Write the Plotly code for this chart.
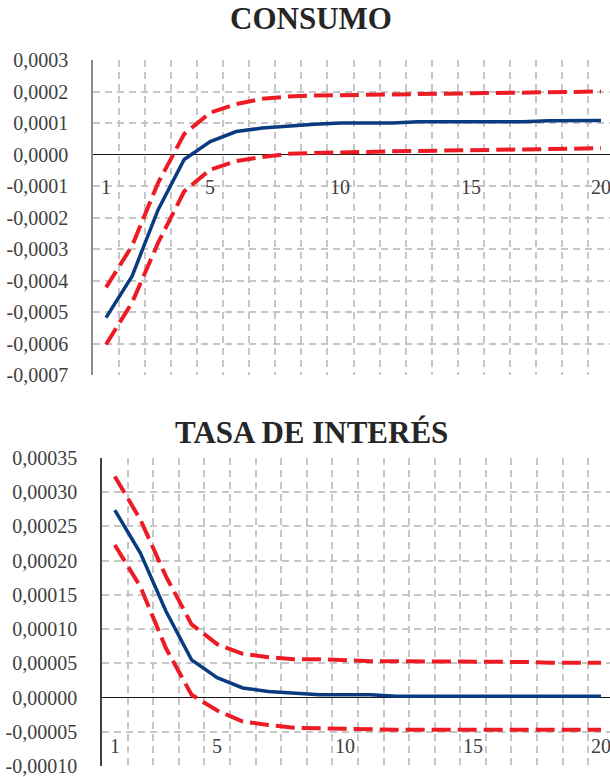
import plotly.graph_objects as go

periods = list(range(1, 21))

consumo_irf = [-0.000518, -0.000386, -0.000175, -0.000016, 0.000041, 0.000073, 0.000084, 0.000091,
               0.000096, 0.0001, 0.0001, 0.0001, 0.000104, 0.000104, 0.000104, 0.000104, 0.000104,
               0.000107, 0.000108, 0.000108]
consumo_upper = [-0.000422, -0.00029, -0.00009, 0.000065, 0.000133, 0.00016, 0.000177, 0.000184,
                 0.000187, 0.000188, 0.00019, 0.00019, 0.000192, 0.000194, 0.000195, 0.000195,
                 0.000195, 0.000196, 0.000197, 0.0002]
consumo_lower = [-0.000603, -0.00047, -0.00028, -0.000117, -0.000048, -0.000021, -0.000008, 0.000002,
                 0.000005, 0.000008, 0.000008, 0.00001, 0.000012, 0.000013, 0.000014, 0.000015,
                 0.000016, 0.000018, 0.000019, 0.00002]

tasa_irf = [0.000274, 0.000211, 0.000126, 0.000055, 0.000029, 0.000014, 0.000009, 0.000006,
            0.000004, 0.000004, 0.000004, 0.000002, 0.000002, 0.000002, 0.000002, 0.000002,
            0.000002, 0.000002, 0.000002, 0.000002]
tasa_upper = [0.000323, 0.00026, 0.000177, 0.000107, 0.000078, 0.000064, 0.000059, 0.000056,
              0.000056, 0.000054, 0.000053, 0.000053, 0.000053, 0.000053, 0.000053, 0.000053,
              0.000052, 0.000051, 0.000051, 0.000051]
tasa_lower = [0.000223, 0.000162, 0.000072, 0.000004, -0.000019, -0.000035, -0.00004, -0.000044,
              -0.000045, -0.000046, -0.000047, -0.000047, -0.000047, -0.000047, -0.000047,
              -0.000047, -0.000047, -0.000047, -0.000047, -0.000047]

consumo_ticks = [-0.0007, -0.0006, -0.0005, -0.0004, -0.0003, -0.0002, -0.0001, 0.0, 0.0001, 0.0002, 0.0003]
consumo_ticktext = ["-0,0007", "-0,0006", "-0,0005", "-0,0004", "-0,0003", "-0,0002", "-0,0001",
                    "0,0000", "0,0001", "0,0002", "0,0003"]
tasa_ticks = [-0.0001, -0.00005, 0.0, 0.00005, 0.0001, 0.00015, 0.0002, 0.00025, 0.0003, 0.00035]
tasa_ticktext = ["-0,00010", "-0,00005", "0,00000", "0,00005", "0,00010", "0,00015", "0,00020",
                 "0,00025", "0,00030", "0,00035"]
x_labels = [1, 5, 10, 15, 20]
titles = ["CONSUMO", "TASA DE INTERÉS"]

W, H = 610, 777
FONT = "Liberation Serif"
BLUE = "#0a3a80"
RED = "#ed1c24"
GRID = "#c6c6c6"
GDASH = "7px,5px"

fig = go.Figure()

panels = [
    dict(irf=consumo_irf, up=consumo_upper, lo=consumo_lower, ticks=consumo_ticks,
         ticktext=consumo_ticktext, yr=[-0.0007, 0.0003], left=93, top=60, bottom=375,
         xr=[0.5, 20.345], axcol="#8c8c8c", lab_shift=-33, title_y=19, ax=""),
    dict(irf=tasa_irf, up=tasa_upper, lo=tasa_lower, ticks=tasa_ticks,
         ticktext=tasa_ticktext, yr=[-0.0001, 0.00035], left=102, top=458, bottom=766,
         xr=[0.5, 20.35], axcol="#404040", lab_shift=-48, title_y=432, ax="2"),
]

for i, p in enumerate(panels):
    xa = "x" + p["ax"]
    ya = "y" + p["ax"]
    for series, color, dash, width in [(p["up"], RED, "19px,7px", 4),
                                        (p["lo"], RED, "19px,7px", 4),
                                        (p["irf"], BLUE, "solid", 3.5)]:
        fig.add_trace(go.Scatter(x=periods, y=series, mode="lines", xaxis=xa, yaxis=ya,
                                 line=dict(color=color, width=width, dash=dash),
                                 showlegend=False, hoverinfo="skip"))
    xkey = "xaxis" + p["ax"]
    ykey = "yaxis" + p["ax"]
    fig.update_layout(**{
        xkey: dict(domain=[p["left"] / W, 1.0], range=p["xr"], anchor=ya, automargin=False,
                   tickmode="array", tickvals=[k + 0.5 for k in range(1, 20)],
                   showticklabels=False, ticks="", showgrid=True, gridcolor=GRID,
                   gridwidth=1.5, griddash=GDASH, zeroline=False, showline=False),
        ykey: dict(domain=[1 - p["bottom"] / H, 1 - p["top"] / H], range=p["yr"], anchor=xa,
                   automargin=False,
                   tickmode="array", tickvals=p["ticks"], ticktext=p["ticktext"],
                   showgrid=True, gridcolor=GRID, gridwidth=1.5, griddash=GDASH,
                   zeroline=True, zerolinecolor="#1a1a1a", zerolinewidth=1,
                   showline=True, linecolor=p["axcol"], linewidth=1.5,
                   ticks="", ticklabelstandoff=19,
                   tickfont=dict(family=FONT, size=20, color="#404040")),
    })
    for lab in x_labels:
        fig.add_annotation(x=lab, y=0, xref=xa, yref=ya, text=str(lab), showarrow=False,
                           yanchor="middle", xanchor="center", yshift=p["lab_shift"],
                           font=dict(family=FONT, size=20, color="#404040"))
    fig.add_annotation(x=311 / W, y=1 - p["title_y"] / H, xref="paper", yref="paper",
                       text="<b>" + titles[i] + "</b>", showarrow=False,
                       xanchor="center", yanchor="middle",
                       font=dict(family=FONT, size=31, color="#262626"))

fig.update_layout(width=W, height=H, autosize=False,
                  margin=dict(l=0, r=0, t=0, b=0, pad=0, autoexpand=False),
                  paper_bgcolor="white", plot_bgcolor="white",
                  font=dict(family=FONT, color="#404040"))

fig.write_html("out.html", config={"displayModeBar": False},
               post_script="document.body.style.margin='0';document.body.style.overflow='hidden';")
